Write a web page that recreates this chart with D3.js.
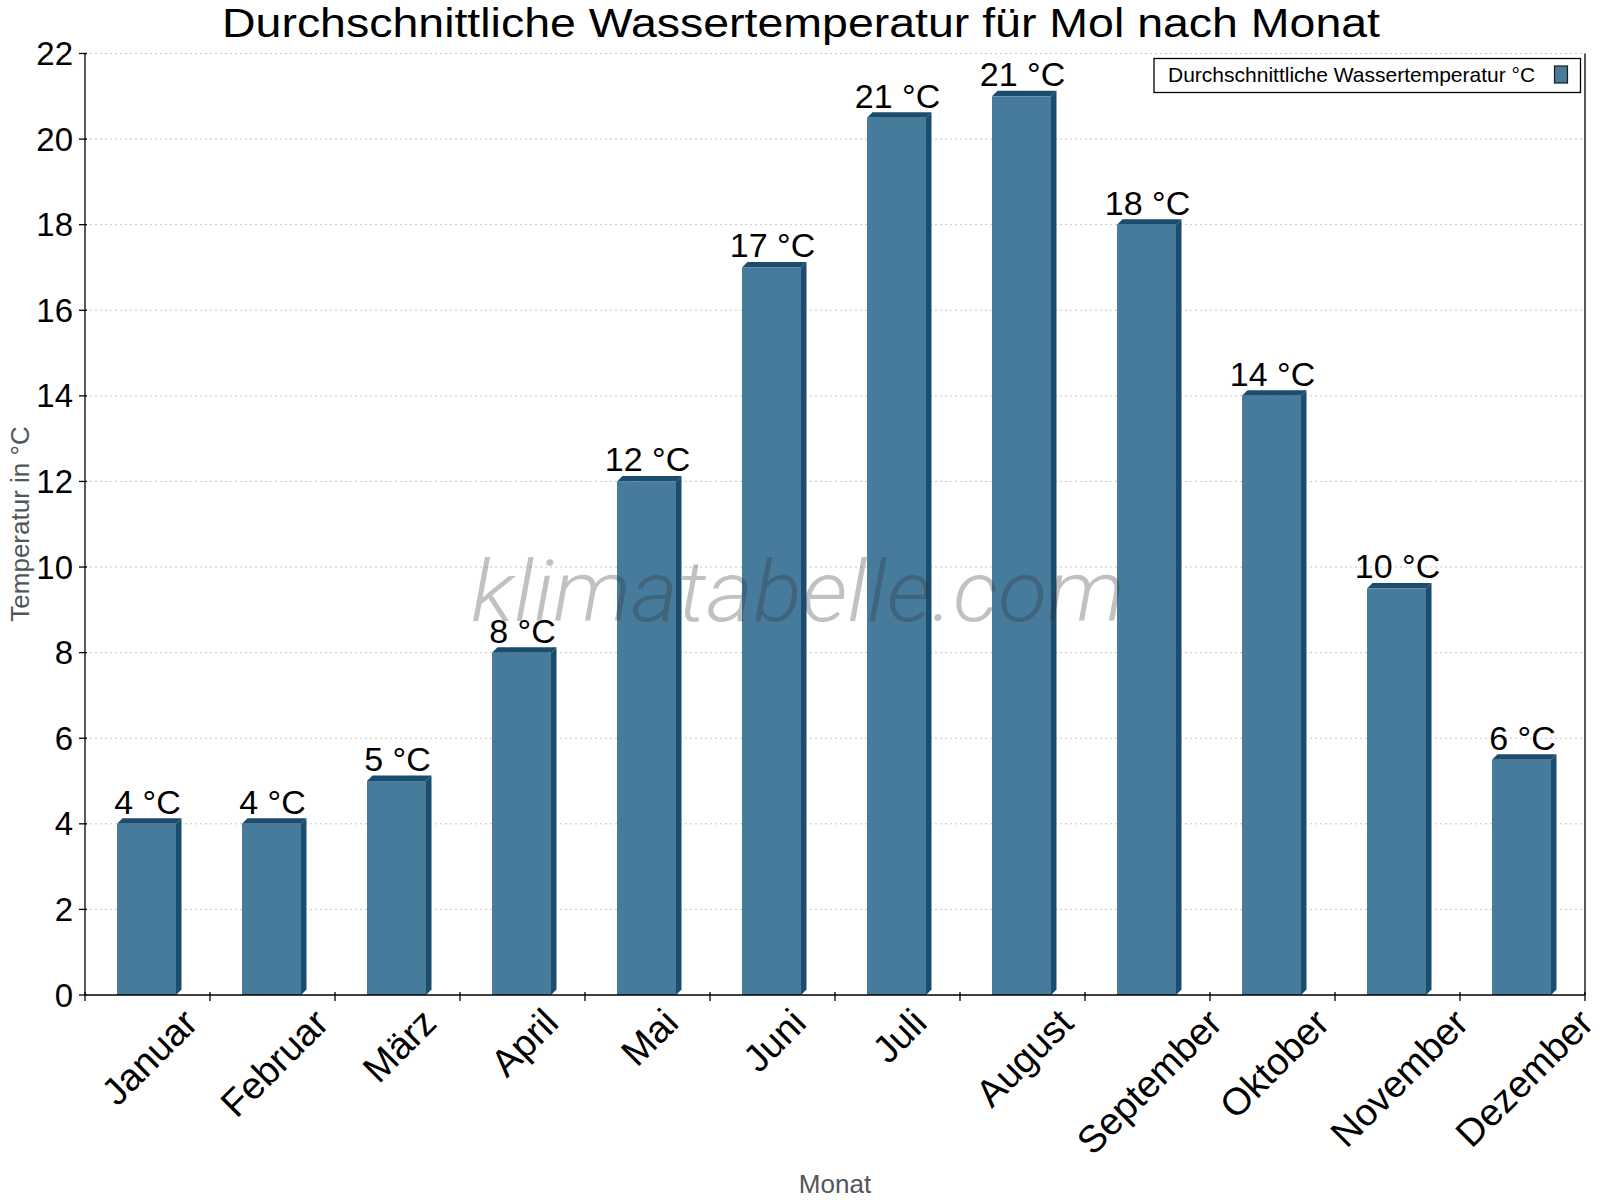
<!DOCTYPE html>
<html><head><meta charset="utf-8">
<script src="https://cdn.jsdelivr.net/npm/d3@7"></script>
<style>body{margin:0;background:#fff}svg{display:block}</style>
</head><body>
<svg id="chart" width="1600" height="1200"></svg>
<script>
const months = ["Januar","Februar","März","April","Mai","Juni","Juli","August","September","Oktober","November","Dezember"];
const waterTemp = [4, 4, 5, 8, 12, 17, 20.5, 21, 18, 14, 9.5, 5.5];
const yTicks = [0, 2, 4, 6, 8, 10, 12, 14, 16, 18, 20, 22];
const titleText = "Durchschnittliche Wassertemperatur für Mol nach Monat";
const seriesName = "Durchschnittliche Wassertemperatur °C";
const yTitle = "Temperatur in °C";
const xTitle = "Monat";
const watermark = "klimatabelle.com";

(function () {
const FONT = "'Liberation Sans', Arial, Helvetica, sans-serif";
const svg = d3.select("#chart");
const pL = 85, pR = 1585, pT = 53.5, pB = 995;

const x = d3.scaleBand().domain(months).range([pL, pR]).paddingInner(0).paddingOuter(0);
const y = d3.scaleLinear().domain([0, 22]).range([pB, pT]);
const bw = x.bandwidth();

// grid
svg.append("g").selectAll("line").data(yTicks.filter(t => t > 0)).join("line")
  .attr("x1", pL).attr("x2", pR)
  .attr("y1", d => y(d)).attr("y2", d => y(d))
  .attr("stroke", "#c4c4c4").attr("stroke-width", 1).attr("stroke-dasharray", "2,3");

// bars
const dp = 5.5;
const front = "#467b9c", dark = "#1a4d6e";
const bars = svg.append("g").selectAll("g").data(months.map((m, i) => ({m, v: waterTemp[i]}))).join("g");
bars.each(function(p) {
  const g = d3.select(this);
  const L = x(p.m) + bw * 0.256, R = L + bw * 0.472, T = y(p.v), B = y(0);
  g.append("polygon").attr("points", [[L,T],[L+dp,T-dp],[R+dp,T-dp],[R,T]].map(a=>a.join(",")).join(" ")).attr("fill", dark);
  g.append("polygon").attr("points", [[R,T],[R+dp,T-dp],[R+dp,B-dp],[R,B]].map(a=>a.join(",")).join(" ")).attr("fill", dark);
  g.append("rect").attr("x", L).attr("y", T).attr("width", R - L).attr("height", B - T).attr("fill", front);
  g.append("text").attr("x", (L + R) / 2 + 1).attr("y", T - 10).attr("text-anchor", "middle")
    .attr("font-family", FONT).attr("font-size", 34).attr("fill", "#000")
    .text(Math.round(p.v) + " °C");
});

// watermark
svg.append("text").attr("x", 471).attr("y", 621)
  .attr("font-family", "Roboto, 'Open Sans', sans-serif").attr("font-style", "italic").attr("font-weight", 300)
  .attr("font-size", 86).attr("fill", "#333").attr("fill-opacity", 0.3)
  .attr("textLength", 654).attr("lengthAdjust", "spacingAndGlyphs")
  .text(watermark);

// axes
const ax = svg.append("g").attr("stroke", "#000").attr("stroke-width", 1.3);
ax.append("line").attr("x1", pL).attr("x2", pL).attr("y1", pT).attr("y2", pB);
ax.append("line").attr("x1", pR).attr("x2", pR).attr("y1", pT).attr("y2", pB);
ax.append("line").attr("x1", pL).attr("x2", pR).attr("y1", pB).attr("y2", pB);
ax.selectAll(".yt").data(yTicks).join("line").attr("class", "yt")
  .attr("x1", pL - 6).attr("x2", pL + 2).attr("y1", d => y(d)).attr("y2", d => y(d));
const bounds = months.map(m => x(m)).concat([pR]);
ax.selectAll(".xt").data(bounds).join("line").attr("class", "xt")
  .attr("x1", d => d).attr("x2", d => d).attr("y1", pB - 3).attr("y2", pB + 6);

svg.append("g").selectAll("text").data(yTicks).join("text")
  .attr("x", pL - 12).attr("y", d => y(d)).attr("dy", "0.35em").attr("text-anchor", "end")
  .attr("font-family", FONT).attr("font-size", 33).attr("fill", "#000").text(d => d);

// x labels rotated, bbox centered on band, top fixed
months.forEach(m => {
  const g = svg.append("g");
  g.append("text").attr("transform", "rotate(-45)").attr("text-anchor", "middle")
    .attr("font-family", FONT).attr("font-size", 38).attr("fill", "#000").text(m);
  const bb = g.node().getBBox();
  const cx = x(m) + bw / 2;
  g.attr("transform", `translate(${cx - (bb.x + bb.width / 2) + 2},${1001 - bb.y})`);
});

// axis titles
svg.append("text").attr("transform", "translate(29,524) rotate(-90)").attr("text-anchor", "middle")
  .attr("font-family", FONT).attr("font-size", 26).attr("fill", "#50565c").text(yTitle);
svg.append("text").attr("x", (pL + pR) / 2).attr("y", 1193).attr("text-anchor", "middle")
  .attr("font-family", FONT).attr("font-size", 26).attr("fill", "#50565c").text(xTitle);

// title
svg.append("text").attr("x", 801).attr("y", 37).attr("text-anchor", "middle")
  .attr("font-family", FONT).attr("font-size", 41).attr("fill", "#000")
  .attr("textLength", 1158).attr("lengthAdjust", "spacingAndGlyphs")
  .text(titleText);

// legend
const lg = svg.append("g");
lg.append("rect").attr("x", 1154).attr("y", 58.5).attr("width", 426.5).attr("height", 34)
  .attr("fill", "#fff").attr("stroke", "#000").attr("stroke-width", 1.3);
lg.append("text").attr("x", 1168).attr("y", 82).attr("font-family", FONT).attr("font-size", 21)
  .attr("fill", "#000").text(seriesName);
lg.append("rect").attr("x", 1554.5).attr("y", 66).attr("width", 13).attr("height", 17)
  .attr("fill", front).attr("stroke", "#1a1a1a").attr("stroke-width", 1.2);
})();
</script>
</body></html>
